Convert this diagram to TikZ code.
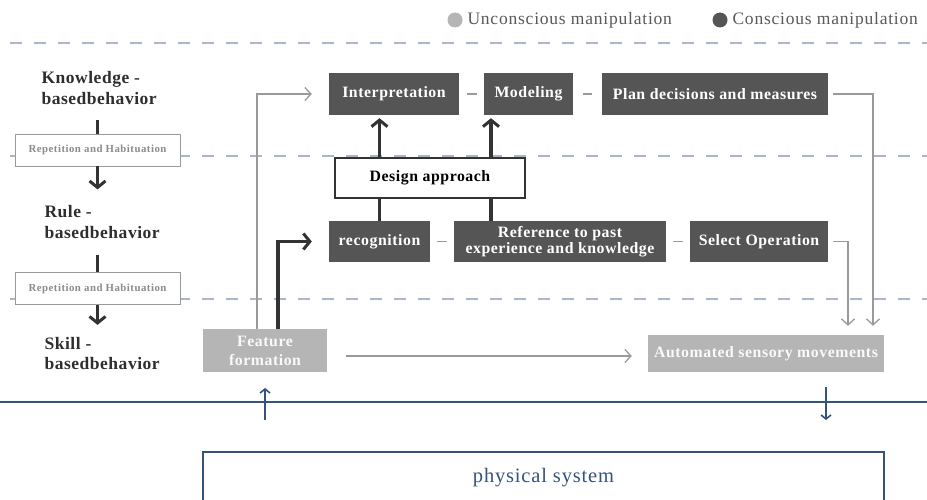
\documentclass[tikz,border=0pt]{standalone}
\usepackage{fontspec}
\setmainfont{Liberation Serif}
\newfontfamily\boxfont{Liberation Serif}[LetterSpace=3.5]
\newfontfamily\lblfont{Liberation Serif}[LetterSpace=3]
\newfontfamily\repfont{Liberation Serif}[LetterSpace=4.5]
\newfontfamily\legfont{Liberation Serif}[LetterSpace=4.5]
\newfontfamily\physfont{Liberation Serif}[LetterSpace=4]
\usetikzlibrary{arrows.meta,calc}
\definecolor{boxdark}{HTML}{555555}
\definecolor{boxlight}{HTML}{B5B5B5}
\definecolor{linegray}{HTML}{9A9A9A}
\definecolor{thickdark}{HTML}{333333}
\definecolor{dashblue}{HTML}{A8B6C8}
\definecolor{navy}{HTML}{34537A}
\definecolor{labeltext}{HTML}{2E2E2E}
\definecolor{reptext}{HTML}{8C8C8C}
\begin{document}
\begin{tikzpicture}[x=1pt,y=-1pt,
  darkbox/.style={fill=boxdark,text=white,inner sep=0pt,minimum height=42pt,align=center,
    font=\boxfont\bfseries\fontsize{15.8}{16.5}\selectfont},
  lightbox/.style={fill=boxlight,text=white!95!gray,inner sep=0pt,align=center,
    font=\boxfont\bfseries\fontsize{15.8}{19}\selectfont},
  whitebox/.style={draw=thickdark,line width=1.2pt,fill=white,inner sep=0pt,minimum height=40pt,
    font=\boxfont\bfseries\fontsize{15.8}{17}\selectfont},
  repbox/.style={draw=linegray,line width=0.8pt,fill=white,text=reptext,inner sep=0pt,
    minimum width=165pt,minimum height=32pt,font=\repfont\bfseries\fontsize{10.8}{12}\selectfont},
  levellabel/.style={anchor=west,align=left,text=labeltext,
    font=\lblfont\bfseries\fontsize{17.5}{20.5}\selectfont},
  legtext/.style={anchor=west,text=labeltext!80!white,font=\legfont\fontsize{17.5}{19}\selectfont},
  dashline/.style={draw=dashblue,line width=1.3pt,dash pattern=on 12pt off 12pt},
  grayarrow/.style={draw=linegray,line width=1.3pt,-{Straight Barb[length=6pt,width=13pt,line width=1.3pt]}},
  thickline/.style={draw=thickdark,line width=3.5pt},
  thickarrow/.style={draw=thickdark,line width=3.5pt,-{Straight Barb[length=6.5pt,width=16pt,line width=3pt]}},
  navyarrow/.style={draw=navy,line width=1.6pt,-{Straight Barb[length=4pt,width=10pt,line width=1.6pt]}},
  sepdash/.style={draw=linegray,line width=1.5pt}
]
\useasboundingbox (0,0) rectangle (927,500);

% legend
\fill[boxlight] (455,20) circle (7.5pt) coordinate (legA);
\node[legtext] (legAt) at (464,20) {Unconscious manipulation};
\fill[boxdark] (720,20) circle (7.5pt) coordinate (legB);
\node[legtext] (legBt) at (729,20) {Conscious manipulation};

% dashed separators
\coordinate (d1a) at (10,43); \coordinate (d1b) at (927,43);
\coordinate (d2a) at (10,156); \coordinate (d2b) at (927,156);
\coordinate (d3a) at (10,299); \coordinate (d3b) at (927,299);
\draw[dashline] (d1a) -- (d1b);
\draw[dashline] (d2a) -- (d2b);
\draw[dashline] (d3a) -- (d3b);

% left column
\node[levellabel] (know) at (38,88) {Knowledge -\\basedbehavior};
\node[repbox] (rep1) at (97.5,150) {Repetition and Habituation};
\node[levellabel] (rule) at (41,222) {Rule -\\basedbehavior};
\node[repbox] (rep2) at (97.5,288.5) {Repetition and Habituation};
\node[levellabel] (skill) at (41,353.5) {Skill -\\basedbehavior};

\draw[thickline] (rep1.north) -- ++(0,-14);
\draw[thickarrow] (rep1.south) -- ++(0,23);
\draw[thickline] (rep2.north) -- ++(0,-17);
\draw[thickarrow] (rep2.south) -- ++(0,20);

% top row
\node[darkbox,minimum width=130pt] (interp) at (394,94) {Interpretation};
\node[darkbox,minimum width=89pt] (model) at (528.5,94) {Modeling};
\node[darkbox,minimum width=226pt] (plan) at (715,94) {Plan decisions and measures};
\draw[sepdash,shorten <=8pt,shorten >=7pt] (interp) -- (model);
\draw[sepdash,shorten <=10pt,shorten >=10pt] (model) -- (plan);

% design approach
\node[whitebox,minimum width=190pt] (design) at (430,178) {Design approach};

% middle row
\node[darkbox,minimum width=101pt,minimum height=41pt] (recog) at (379.5,241.5) {recognition};
\node[darkbox,minimum width=212pt,minimum height=41pt] (refer) at (560,241.5) {Reference to past\\experience and knowledge};
\node[darkbox,minimum width=138pt,minimum height=41pt] (select) at (759,241.5) {Select Operation};
\draw[sepdash,shorten <=7pt,shorten >=7pt] (recog) -- (refer);
\draw[sepdash,shorten <=7pt,shorten >=7pt] (refer) -- (select);

% design approach links
\draw[thickarrow,shorten >=3pt] (design.north -| recog) -- (interp.south -| recog);
\draw[thickarrow,shorten >=3pt] (design.north -| 491,0) -- (model.south -| 491,0);
\draw[thickline] (design.south -| recog) -- (recog.north);
\draw[thickline] (design.south -| 491,0) -- (refer.north -| 491,0);

% bottom row
\node[lightbox,minimum width=124pt,minimum height=43pt] (feat) at (265,350.5) {Feature\\formation};
\node[lightbox,minimum width=236pt,minimum height=37pt] (auto) at (766,353.5) {Automated sensory movements};

\draw[grayarrow,shorten >=17pt] (feat.north -| 257,0) |- (interp.west);
\draw[thickarrow,shorten >=17pt] (feat.north -| 278,0) |- (recog.west);
\draw[grayarrow,shorten <=19pt,shorten >=16pt] (feat.east |- 0,356) -- (auto.west |- 0,356);

\coordinate (planR) at ($(plan.east)+(5,0)$);
\coordinate (selR) at ($(select.east)+(5,0)$);
\draw[grayarrow,shorten >=9pt] (planR) -| (auto.north -| 873,0);
\draw[grayarrow,shorten >=9pt] (selR) -| (auto.north -| 848,0);

% physical layer
\coordinate (bl) at (0,402); \coordinate (br) at (927,402);
\draw[draw=navy,line width=2.2pt] (bl) -- (br);
\coordinate (upS) at (265,420); \coordinate (upE) at (265,388);
\coordinate (dnS) at (826,387); \coordinate (dnE) at (826,420);
\draw[navyarrow] (upS) -- (upE);
\draw[navyarrow] (dnS) -- (dnE);
\node[draw=navy,line width=1.6pt,minimum width=681pt,minimum height=52pt,text=navy,
  font=\physfont\fontsize{20.5}{22}\selectfont] (phys) at (543.5,478) {physical system};
\end{tikzpicture}
\end{document}
